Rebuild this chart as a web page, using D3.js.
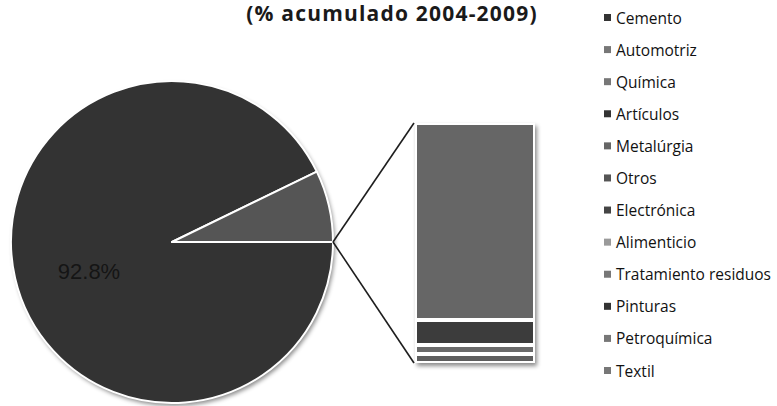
<!DOCTYPE html>
<html><head><meta charset="utf-8">
<script src="https://cdn.jsdelivr.net/npm/d3@7"></script>
<style>body{margin:0;background:#fff}svg{display:block}</style>
</head><body>
<svg id="c" width="777" height="406"></svg>
<script>
const title = "(% acumulado 2004-2009)";
const pieCategories = ["Cemento", "Otros"];
const pieValues = [92.8, 7.2];
const pieColors = ["#333333", "#555555"];
const barCategories = ["Automotriz", "Artículos", "Química", "Metalúrgia"];
const barValues = [5.91, 0.75, 0.27, 0.27];
const barColors = ["#666666", "#3c3c3c", "#6a6a6a", "#5e5e5e"];
const legendLabels = ["Cemento","Automotriz","Química","Artículos","Metalúrgia","Otros","Electrónica","Alimenticio","Tratamiento residuos","Pinturas","Petroquímica","Textil"];
const legendColors = ["#333333","#777777","#777777","#333333","#666666","#555555","#444444","#9a9a9a","#777777","#333333","#777777","#777777"];
const pieLabel = "92.8%";

const svg = d3.select("#c");
const defs = svg.append("defs");
const f = defs.append("filter").attr("id","sh").attr("x","-20%").attr("y","-20%").attr("width","140%").attr("height","140%");
f.append("feDropShadow").attr("dx",2).attr("dy",3).attr("stdDeviation",2).attr("flood-color","#000").attr("flood-opacity",0.45);

// title
svg.append("text").attr("x", 392).attr("y", 21).attr("text-anchor","middle")
  .attr("font-family","Open Sans").attr("font-weight","bold").attr("font-size",21)
  .attr("letter-spacing",1.2)
  .attr("fill","#1a1a1a").text(title);

// pie
const cx = 172, cy = 242, R = 161;
const pie = d3.pie().sort(null).startAngle(Math.PI/2).endAngle(Math.PI/2 + 2*Math.PI);
const arcs = pie(pieValues);
const arc = d3.arc().innerRadius(0).outerRadius(R);
const pg = svg.append("g").attr("transform",`translate(${cx},${cy})`);
pg.append("circle").attr("r",R).attr("fill","#333").attr("filter","url(#sh)");
pg.selectAll("path").data(arcs).join("path")
  .attr("d",arc).attr("fill",(d,i)=>pieColors[i]).attr("stroke","#fff").attr("stroke-width",2).attr("stroke-linejoin","round");

svg.append("text").attr("x",89).attr("y",279).attr("text-anchor","middle")
  .attr("font-family","Liberation Sans").attr("font-size",22).attr("fill","#151515").text(pieLabel);

// bar of pie
const bx = 415, bw = 120, bTop = 123, bBot = 363;
const total = d3.sum(barValues);
const y = d3.scaleLinear().domain([0,total]).range([bTop,bBot]);
let acc = 0;
const segs = barValues.map((v,i)=>{const s={y0:acc,y1:acc+v,c:barColors[i],k:barCategories[i]};acc+=v;return s;});
const bg = svg.append("g");
bg.append("rect").attr("x",bx).attr("y",bTop).attr("width",bw).attr("height",bBot-bTop).attr("fill","#ddd").attr("filter","url(#sh)");
bg.selectAll("rect.s").data(segs).join("rect").attr("class","s")
  .attr("x",bx+1).attr("width",bw-2)
  .attr("y",d=>y(d.y0)+1).attr("height",d=>Math.max(0,y(d.y1)-y(d.y0)-2))
  .attr("fill",d=>d.c).attr("stroke","#fff").attr("stroke-width",2);

// connector lines
const px = cx + R, py = cy;
svg.append("line").attr("x1",px).attr("y1",py).attr("x2",bx-1).attr("y2",bTop)
  .attr("stroke","#1e1e1e").attr("stroke-width",1.6);
svg.append("line").attr("x1",px).attr("y1",py).attr("x2",bx-1).attr("y2",bBot)
  .attr("stroke","#1e1e1e").attr("stroke-width",1.6);

// legend
const lg = svg.append("g");
const ly = d3.scaleLinear().domain([0,11]).range([18,371]);
legendLabels.forEach((t,i)=>{
  lg.append("rect").attr("x",604).attr("y",ly(i)-4).attr("width",7).attr("height",7).attr("fill",legendColors[i]);
  lg.append("text").attr("x",616).attr("y",ly(i)+5.5).attr("font-family","Open Sans").attr("font-size",15.5)
    .attr("fill","#111").text(t);
});
</script>
</body></html>
